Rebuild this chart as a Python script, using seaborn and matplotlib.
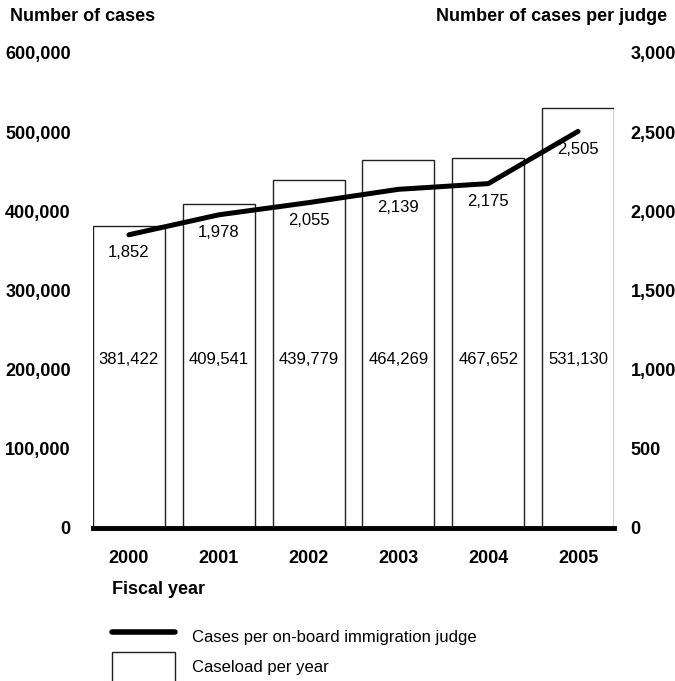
import numpy as np
import pandas as pd
import matplotlib
matplotlib.use("Agg")
import matplotlib.pyplot as plt
import seaborn as sns
from matplotlib.lines import Line2D
from matplotlib.patches import Patch
from matplotlib.ticker import FuncFormatter

years = ["2000", "2001", "2002", "2003", "2004", "2005"]
caseload = [381422, 409541, 439779, 464269, 467652, 531130]
cases_per_judge = [1852, 1978, 2055, 2139, 2175, 2505]

sns.set_theme(style="white")
plt.rcParams["font.family"] = ["Liberation Sans", "DejaVu Sans"]
plt.rcParams.update({"text.color": "black", "xtick.color": "black",
                     "ytick.color": "black", "axes.labelcolor": "black"})

df = pd.DataFrame({"year": years, "caseload": caseload,
                   "per_judge": cases_per_judge, "pos": np.arange(len(years))})

fig = plt.figure(figsize=(6.75, 6.81), dpi=100)
ax = fig.add_axes([93 / 675, 1 - 528 / 681, 521 / 675, 475 / 681])

# Bars: caseload per year (left axis)
sns.barplot(data=df, x="year", y="caseload", color="white", edgecolor="#222222",
            linewidth=1.0, width=0.8, saturation=1, ax=ax)
ax.set_xlim(-0.4, len(years) - 0.6)
ax.set_ylim(0, 600000)
ax.set_yticks(np.arange(0, 600001, 100000))
ax.yaxis.set_major_formatter(FuncFormatter(lambda v, p: f"{int(v):,}"))
ax.set_xlabel("")
ax.set_ylabel("")
for s in ["top", "left", "right"]:
    ax.spines[s].set_visible(False)
ax.spines["bottom"].set_linewidth(3.5)
ax.spines["bottom"].set_color("black")
ax.tick_params(axis="both", length=0, labelsize=13, colors="black")
ax.tick_params(axis="x", pad=16)
ax.tick_params(axis="y", pad=16)
for lbl in ax.get_xticklabels() + ax.get_yticklabels():
    lbl.set_fontweight("bold")

for i, v in enumerate(caseload):
    ax.text(i, 213000, f"{v:,}", ha="center", va="center", fontsize=12, color="black")

# Line: cases per judge (right axis)
ax2 = ax.twinx()
sns.lineplot(data=df, x="pos", y="per_judge", color="black", linewidth=3.6, ax=ax2)
ax2.set_ylim(0, 3000)
ax2.set_xlim(-0.4, len(years) - 0.6)
ax2.set_yticks(np.arange(0, 3001, 500))
ax2.yaxis.set_major_formatter(FuncFormatter(lambda v, p: f"{int(v):,}"))
ax2.set_ylabel("")
ax2.set_xlabel("")
for s in ax2.spines.values():
    s.set_visible(False)
ax2.tick_params(axis="y", length=0, labelsize=13, pad=12, colors="black")
for lbl in ax2.get_yticklabels():
    lbl.set_fontweight("bold")

for i, v in enumerate(cases_per_judge):
    ax2.annotate(f"{v:,}", (i, v), xytext=(0, -13), textcoords="offset points",
                 ha="center", va="center", fontsize=12, color="black")

fig.text(10 / 675, 1 - 8 / 681, "Number of cases", ha="left", va="top",
         fontsize=13, fontweight="bold")
fig.text(667 / 675, 1 - 8 / 681, "Number of cases per judge", ha="right", va="top",
         fontsize=13, fontweight="bold")
fig.text(112 / 675, 1 - 590 / 681, "Fiscal year", ha="left", va="center",
         fontsize=13, fontweight="bold")

handles = [Line2D([], [], color="black", linewidth=4),
           Patch(facecolor="white", edgecolor="#222222", linewidth=1.0)]
labels = ["Cases per on-board immigration judge", "Caseload per year"]
fig.legend(handles, labels, loc="upper left", bbox_to_anchor=(112 / 675, 1 - 622 / 681),
           frameon=False, fontsize=12, handlelength=3.8, handleheight=2.4,
           handletextpad=1.0, labelspacing=0.0, borderpad=0, borderaxespad=0)

fig.savefig("out.png", dpi=100)
